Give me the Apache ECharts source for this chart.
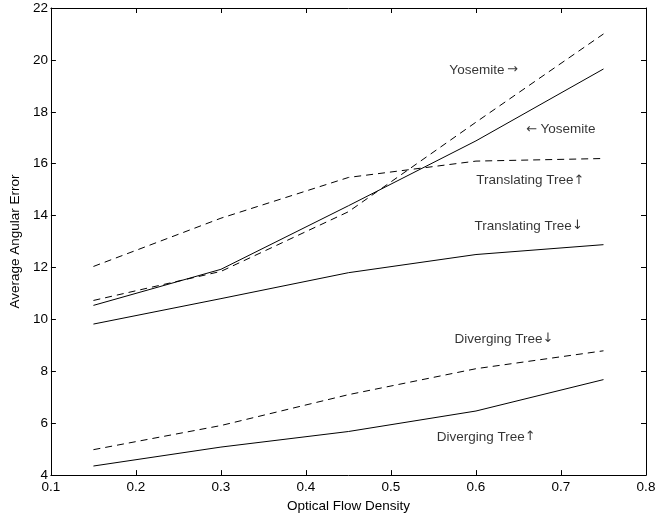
<!DOCTYPE html>
<html>
<head>
<meta charset="utf-8">
<script src="https://cdn.jsdelivr.net/npm/echarts@6/dist/echarts.min.js"></script>
<style>
html,body{margin:0;padding:0;background:#fff;}
#chart{width:669px;height:518px;}
</style>
</head>
<body>
<div id="chart"></div>
<script>
var density = [0.15, 0.30, 0.45, 0.60, 0.75];

var yosemiteSolid = [10.54, 11.93, 14.38, 16.88, 19.65];
var yosemiteDashed = [10.73, 11.85, 14.15, 17.6, 21.0];
var translatingUpDashed = [12.04, 13.9, 15.47, 16.1, 16.2];
var translatingDownSolid = [9.82, 10.8, 11.8, 12.5, 12.88];
var divergingDownDashed = [4.98, 5.91, 7.1, 8.1, 8.79];
var divergingUpSolid = [4.35, 5.08, 5.68, 6.47, 7.68];

var labelTexts = ['Yosemite', 'Yosemite', 'Translating Tree', 'Translating Tree', 'Diverging Tree', 'Diverging Tree'];
var labelArrows = ['\u2192', '\u2190', '\u2191', '\u2193', '\u2193', '\u2191'];
var arrowBefore = [false, true, false, false, false, false];
var labelX = [0.609, 0.700, 0.664, 0.662, 0.633, 0.612];
var labelY = [19.61, 17.33, 15.35, 13.60, 9.25, 5.47];

var xTicks = [0.1, 0.2, 0.3, 0.4, 0.5, 0.6, 0.7, 0.8];
var yTicks = [4, 6, 8, 10, 12, 14, 16, 18, 20, 22];

function pairs(xs, ys){ return xs.map(function(x,i){ return [x, ys[i]]; }); }

var FONT = '"Liberation Sans", Arial, Helvetica, sans-serif';
var FS = 13.5;

function lineSeries(name, data, dashed){
  return {
    name: name, type: 'line', data: pairs(density, data),
    symbol: 'none', smooth: false, silent: true,
    lineStyle: { color: '#000', width: 1, type: dashed ? [7, 5] : 'solid' },
    z: 3
  };
}

var chart = echarts.init(document.getElementById('chart'), null, {renderer: 'canvas'});
var axisCommon = {
  type: 'value',
  axisLine: { show: true, onZero: false, lineStyle: { color: '#000', width: 1 } },
  axisTick: { show: true, inside: true, length: 5, lineStyle: { color: '#000' } },
  splitLine: { show: false }
};
chart.setOption({
  animation: false,
  backgroundColor: '#fff',
  grid: { left: 46, right: 23, top: 8, bottom: 37, containLabel: false },
  xAxis: [
    Object.assign({}, axisCommon, {
      min: 0.1, max: 0.8, interval: 0.1, position: 'bottom',
      name: 'Optical Flow Density', nameLocation: 'middle', nameGap: 23,
      nameTextStyle: { fontFamily: FONT, fontSize: FS, color: '#000' },
      axisLabel: { fontFamily: FONT, fontSize: FS, color: '#000', margin: 5,
        formatter: function(v){ return (Math.round(v*10)/10).toFixed(1); } }
    }),
    Object.assign({}, axisCommon, {
      min: 0.1, max: 0.8, interval: 0.1, position: 'top',
      axisLabel: { show: false }
    })
  ],
  yAxis: [
    Object.assign({}, axisCommon, {
      min: 4, max: 22, interval: 2, position: 'left',
      name: 'Average Angular Error', nameLocation: 'middle', nameGap: 25, nameRotate: 90,
      nameTextStyle: { fontFamily: FONT, fontSize: FS, color: '#000' },
      axisLabel: { fontFamily: FONT, fontSize: FS, color: '#000', margin: 3 }
    }),
    Object.assign({}, axisCommon, {
      min: 4, max: 22, interval: 2, position: 'right',
      axisLabel: { show: false }
    })
  ],
  series: [
    lineSeries('Yosemite solid', yosemiteSolid, false),
    lineSeries('Yosemite dashed', yosemiteDashed, true),
    lineSeries('Translating Tree up', translatingUpDashed, true),
    lineSeries('Translating Tree down', translatingDownSolid, false),
    lineSeries('Diverging Tree down', divergingDownDashed, true),
    lineSeries('Diverging Tree up', divergingUpSolid, false),
    {
      type: 'scatter', silent: true, symbolSize: 0,
      data: labelTexts.map(function(t, i){ return { value: [labelX[i], labelY[i]], name: t, idx: i }; }),
      label: { show: true, position: 'inside',
        formatter: function(p){
          var i = p.dataIndex;
          return arrowBefore[i] ? '{a|' + labelArrows[i] + '} {t|' + labelTexts[i] + '}'
                                : '{t|' + labelTexts[i] + '}{a|' + (labelArrows[i] === '\u2192' ? '\u2009' : '') + labelArrows[i] + '}';
        },
        rich: {
          t: { fontFamily: FONT, fontSize: FS, color: '#000' },
          a: { fontFamily: '"DejaVu Sans", sans-serif', fontSize: 13, color: '#000' }
        }
      },
      z: 5
    }
  ]
});
</script>
</body>
</html>
